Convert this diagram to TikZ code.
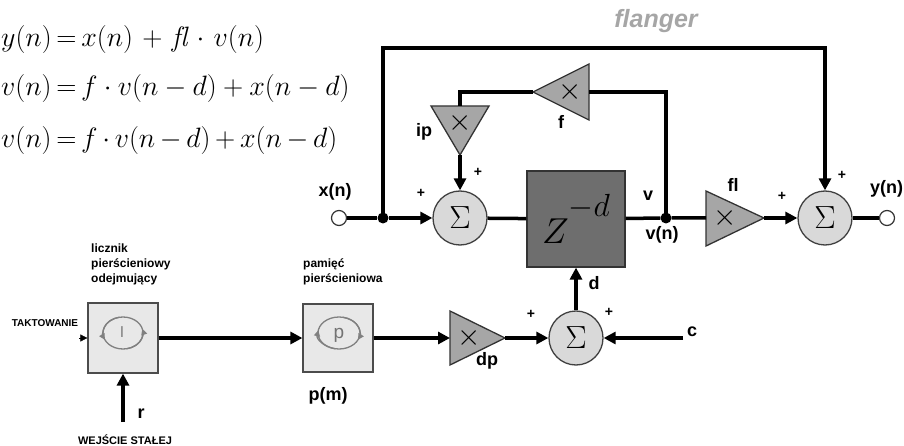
\RequirePackage{fix-cm}
\documentclass[tikz,border=0pt]{standalone}
\usepackage{fontspec}
\setsansfont{Liberation Sans}
\usepackage{amsmath}
\usetikzlibrary{arrows.meta,positioning}
\tikzset{
  sumn/.style={circle,draw=black!75,fill=black!15,line width=1.3pt,minimum size=54pt,inner sep=0pt,font=\fontsize{32}{32}\selectfont},
  blk/.style={draw=black!70,fill=black!9,line width=1.2pt,minimum width=70pt,minimum height=70pt,inner sep=0pt},
  zbox/.style={draw=black!80,fill=black!57,line width=1.2pt,minimum width=98pt,minimum height=96pt,inner sep=0pt},
  tri/.style={draw=black!80,fill=black!35,line width=1.3pt},
  mul/.style={inner sep=0pt,font=\fontsize{30}{30}\selectfont},
  lbl/.style={font=\sffamily\bfseries\fontsize{18}{20}\selectfont,inner sep=0pt},
  pl/.style={font=\sffamily\bfseries\fontsize{14}{14}\selectfont,inner sep=0pt},
  txt/.style={font=\sffamily\bfseries\fontsize{12}{15}\selectfont,align=left,inner sep=0pt},
  ln/.style={line width=3.5pt},
  arr/.style={-{Triangle[length=12pt,width=12pt]},line width=3.5pt},
  dot/.style={circle,fill=black,minimum size=11pt,inner sep=0pt},
  port/.style={circle,draw=black!80,fill=white,line width=1.2pt,minimum size=15pt,inner sep=0pt},
  ring/.style={draw=black!50,line width=1.3pt},
  ringarr/.style={ring,-{Triangle[length=6pt,width=6pt]}},
  eq/.style={anchor=base west,inner sep=0pt,font=\fontsize{28}{28}\selectfont},
}

\begin{document}
\begin{tikzpicture}[x=1pt,y=-1pt]
\useasboundingbox (0,0) rectangle (904,446);
% equations
\node[eq] (eq1) at (1,47) {$\thickmuskip=3mu \medmuskip=6mu y(n)=x(n)+\mathit{fl}\cdot v(n)$};
\node[eq] (eq2) at (1,96) {$\thickmuskip=3mu v(n)=f\cdot v(n-d)+x(n-d)$};
\node[eq] (eq3) at (1,148) {$\thickmuskip=3mu \medmuskip=3mu v(n)=f\cdot v(n-d)+x(n-d)$};
\node[font=\sffamily\bfseries\itshape\fontsize{25}{25}\selectfont,text=black!35,anchor=base] (title) at (656,28) {flanger};
% upper path
\node[port] (xin) at (339,218) {};
\node[dot] (j1) at (383,218) {};
\node[sumn] (sum1) at (460,218) {$\Sigma$};
\node[zbox] (zb) at (576,219) {{\fontsize{36}{36}\selectfont$Z$}\raisebox{27pt}{\fontsize{32}{32}\selectfont$-d$}};
\node[dot] (j2) at (666,218) {};
\node[sumn] (sum2) at (825,218) {$\Sigma$};
\node[port] (yout) at (887,218) {};
% multipliers
\draw[tri] (589,64) -- (589,120) -- (533,92) -- cycle;
\node[mul] (fx) at (570,92) {$\times$};
\coordinate (fin) at (589,92); \coordinate (fout) at (533,92);
\draw[tri] (431,106) -- (489,106) -- (460,155) -- cycle;
\node[mul] (ipx) at (460,123) {$\times$};
\coordinate (ipin) at (460,106); \coordinate (ipout) at (460,155);
\draw[tri] (706,191) -- (706,246) -- (764,218) -- cycle;
\node[mul] (flx) at (725,218) {$\times$};
\coordinate (flin) at (706,218); \coordinate (flout) at (764,218);
\draw[tri] (450,311) -- (450,365) -- (505,338) -- cycle;
\node[mul] (dpx) at (469,338) {$\times$};
\coordinate (dpin) at (450,338); \coordinate (dpout) at (505,338);
% lower path
\node[blk] (cb) at (123,338) {};
\node[blk,minimum height=68pt] (mb) at (338,338) {};
\node[sumn] (sum3) at (576,338) {$\Sigma$};
\draw[ring] (123,333) ellipse [x radius=20, y radius=16];
\draw[ringarr] (123,333) ++(-100:20 and 16) arc[start angle=-100,end angle=-205,x radius=20,y radius=16];
\draw[ringarr] (123,333) ++(-280:20 and 16) arc[start angle=-280,end angle=-375,x radius=20,y radius=16];
\node[font=\sffamily\fontsize{15}{15}\selectfont,text=black!55,inner sep=0pt] (cl) at (122,332) {l};
\draw[ring] (339,333) ellipse [x radius=21, y radius=16];
\draw[ringarr] (339,333) ++(-260:21 and 16) arc[start angle=-260,end angle=-170,x radius=21,y radius=16];
\draw[ringarr] (339,333) ++(-80:21 and 16) arc[start angle=-80,end angle=25,x radius=21,y radius=16];
\node[font=\sffamily\fontsize{19}{19}\selectfont,text=black!55,inner sep=0pt] (mp) at (339,335) {p};
% labels
\node[lbl] (xlab) at (335,192) {x(n)};
\node[lbl] (vlab) at (648,196) {v};
\node[lbl] (vnlab) at (662,235) {v(n)};
\node[lbl] (fllab) at (733,185) {fl};
\node[lbl] (flab) at (561,122) {f};
\node[lbl] (iplab) at (424,132) {ip};
\node[lbl,anchor=west] (ylab) at (870,189) {y(n)};
\node[lbl] (pmlab) at (328,396) {p(m)};
\node[lbl] (rlab) at (141,414) {r};
\node[lbl] (dlab) at (594,283) {d};
\node[lbl] (clab) at (692,332) {c};
\node[lbl] (dplab) at (487,361) {dp};
\node[txt,anchor=north west] (cnt) at (91,244) {licznik\\pierścieniowy\\odejmujący};
\node[txt,anchor=north west] (mem) at (303,258) {pamięć\\pierścieniowa};
\node[font=\sffamily\bfseries\fontsize{10}{10}\selectfont,inner sep=0pt,anchor=base] (takt) at (45,326) {TAKTOWANIE};
\node[font=\sffamily\bfseries\fontsize{11}{11}\selectfont,inner sep=0pt,anchor=base] (wej) at (125,444) {WEJŚCIE STAŁEJ};
\foreach \x/\y [count=\i] in {421/193,478/172,782/196,842/175,531/314,609/312}
  \node[pl] (plus\i) at (\x,\y) {+};
% connectors
\coordinate (top) at (0,48);
\draw[ln] (xin) -- (j1);
\draw[arr] (j1) -- (sum1);
\draw[ln] (sum1) -- (zb);
\draw[ln] (zb) -- (j2) -- (flin);
\draw[arr] (flout) -- (sum2);
\draw[ln] (sum2) -- (yout);
\draw[arr] (j1.center) -- (j1 |- top) -| (sum2.north);
\draw[ln] (j2.center) |- (fin);
\draw[ln] (fout) -| (ipin);
\draw[arr] (ipout) -- (sum1);
\coordinate (tk) at (79,338);
\coordinate (rin) at (123,422);
\coordinate (cin) at (683,338);
\draw[-{Triangle[length=7pt,width=7pt]},line width=0.5pt] (tk) -- (cb);
\draw[arr] (rin) -- (cb);
\draw[arr] (cb) -- (mb);
\draw[arr] (mb) -- (dpin);
\draw[arr] (dpout) -- (sum3);
\draw[arr] (cin) -- (sum3);
\draw[arr] (sum3) -- (zb);
\end{tikzpicture}
\end{document}
